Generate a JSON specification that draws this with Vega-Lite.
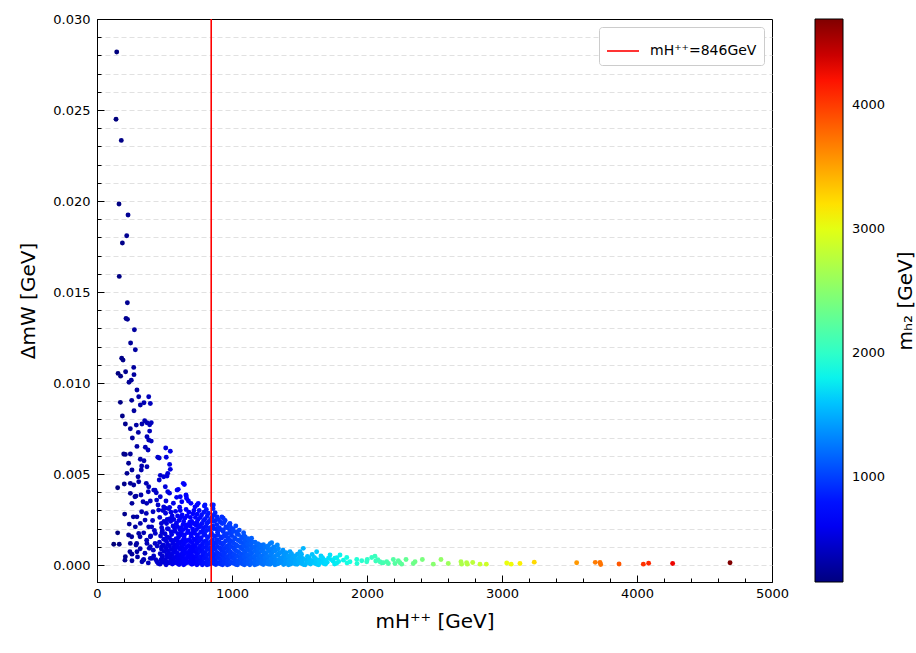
{
  "$schema": "https://vega.github.io/schema/vega-lite/v6.json",
  "width": 675,
  "height": 563,
  "autosize": {"type": "none"},
  "padding": {"left": 97, "top": 19, "right": 144, "bottom": 71},
  "background": "white",
  "config": {
    "font": "DejaVu Sans",
    "view": {"stroke": "black", "strokeWidth": 1},
    "axis": {"labelFont": "DejaVu Sans", "labelFontSize": 13, "labelColor": "black", "titleFont": "DejaVu Sans", "titleFontSize": 20, "titleFontWeight": "normal", "titleColor": "black", "domainColor": "black", "tickColor": "black", "labelFlush": false, "labelOverlap": false}
  },
  "resolve": {"scale": {"y": "independent"}, "axis": {"y": "independent"}},
  "layer": [
    {
      "data": {"values": [
        {"m":146,"dm":0.02819},{"m":141,"dm":0.02449},{"m":180,"dm":0.02333},{"m":163,"dm":0.01984},{"m":230,"dm":0.01923},{"m":220,"dm":0.01809},{"m":188,"dm":0.01769},{"m":165,"dm":0.01586},{"m":225,"dm":0.01441},{"m":215,"dm":0.01355},{"m":226,"dm":0.0135},{"m":277,"dm":0.01293},{"m":249,"dm":0.0122},{"m":284,"dm":0.01183},{"m":183,"dm":0.01136},{"m":193,"dm":0.01126},{"m":272,"dm":0.01086},{"m":156,"dm":0.01053},{"m":175,"dm":0.01038},{"m":212,"dm":0.01062},{"m":274,"dm":0.01046},{"m":254,"dm":0.01016},{"m":237,"dm":0.01004},{"m":296,"dm":0.00962},{"m":173,"dm":0.00894},{"m":257,"dm":0.00905},{"m":309,"dm":0.00925},{"m":383,"dm":0.00925},{"m":321,"dm":0.00879},{"m":348,"dm":0.00892},{"m":395,"dm":0.00888},{"m":274,"dm":0.00848},{"m":188,"dm":0.00819},{"m":353,"dm":0.00793},{"m":370,"dm":0.00782},{"m":402,"dm":0.00782},{"m":390,"dm":0.00771},{"m":210,"dm":0.00775},{"m":291,"dm":0.00769},{"m":333,"dm":0.00775},{"m":247,"dm":0.00749},{"m":306,"dm":0.00729},{"m":390,"dm":0.00736},{"m":262,"dm":0.00698},{"m":370,"dm":0.00705},{"m":383,"dm":0.00687},{"m":402,"dm":0.00681},{"m":296,"dm":0.00652},{"m":358,"dm":0.00647},{"m":378,"dm":0.00632},{"m":198,"dm":0.0061},{"m":210,"dm":0.00608},{"m":247,"dm":0.0061},{"m":321,"dm":0.00581},{"m":348,"dm":0.00573},{"m":331,"dm":0.00544},{"m":370,"dm":0.0054},{"m":450,"dm":0.00592},{"m":461,"dm":0.00588},{"m":513,"dm":0.00592},{"m":509,"dm":0.00643},{"m":543,"dm":0.00625},{"m":538,"dm":0.00553},{"m":543,"dm":0.00526},{"m":524,"dm":0.00504},{"m":234,"dm":0.00559},{"m":259,"dm":0.00522},{"m":222,"dm":0.00504},{"m":304,"dm":0.00485},{"m":328,"dm":0.00522},{"m":469,"dm":0.00493},{"m":494,"dm":0.00485},{"m":461,"dm":0.00467},{"m":519,"dm":0.00489},{"m":153,"dm":0.00425},{"m":202,"dm":0.00445},{"m":247,"dm":0.00449},{"m":272,"dm":0.0044},{"m":309,"dm":0.00458},{"m":365,"dm":0.00449},{"m":383,"dm":0.0043},{"m":420,"dm":0.00412},{"m":506,"dm":0.0043},{"m":524,"dm":0.00403},{"m":593,"dm":0.00412},{"m":647,"dm":0.00443},{"m":247,"dm":0.00394},{"m":289,"dm":0.00379},{"m":326,"dm":0.00385},{"m":439,"dm":0.00397},{"m":469,"dm":0.00375},{"m":259,"dm":0.00339},{"m":341,"dm":0.00348},{"m":395,"dm":0.00352},{"m":452,"dm":0.0033},{"m":494,"dm":0.0032},{"m":617,"dm":0.00375},{"m":661,"dm":0.00379},{"m":696,"dm":0.00339},{"m":741,"dm":0.0033},{"m":795,"dm":0.00324},{"m":852,"dm":0.0033},{"m":205,"dm":0.0028},{"m":296,"dm":0.00265},{"m":365,"dm":0.00284},{"m":415,"dm":0.00293},{"m":457,"dm":0.00302},{"m":506,"dm":0.00312},{"m":538,"dm":0.00317},{"m":239,"dm":0.00225},{"m":284,"dm":0.0021},{"m":321,"dm":0.00229},{"m":383,"dm":0.0021},{"m":153,"dm":0.00177},{"m":234,"dm":0.00165},{"m":309,"dm":0.00174},{"m":346,"dm":0.00177},{"m":395,"dm":0.00156},{"m":432,"dm":0.00174},{"m":124,"dm":0.00114},{"m":165,"dm":0.00114},{"m":247,"dm":0.00119},{"m":289,"dm":0.0011},{"m":370,"dm":0.00119},{"m":395,"dm":0.00101},{"m":210,"dm":0.00046},{"m":259,"dm":0.0006},{"m":296,"dm":0.00073},{"m":346,"dm":0.00031},{"m":395,"dm":0.00037},{"m":444,"dm":0.00018},{"m":259,"dm":0.00024},{"m":333,"dm":0.00018},{"m":407,"dm":0.00037},{"m":602,"dm":0.00416},{"m":639,"dm":0.00449},{"m":659,"dm":0.00385},{"m":664,"dm":0.00366},{"m":750,"dm":0.00339},{"m":800,"dm":0.0033},{"m":862,"dm":0.0033},{"m":935,"dm":0.00257},{"m":985,"dm":0.00229},{"m":1054,"dm":0.00192},{"m":1133,"dm":0.00137},{"m":1207,"dm":0.0011},{"m":1294,"dm":0.00123},{"m":1336,"dm":0.0011},{"m":1430,"dm":0.00073},{"m":1504,"dm":0.00073},
        {"m":207,"dm":0.00027},{"m":343,"dm":0.00027},{"m":244,"dm":0.00073},{"m":294,"dm":0.00119},{"m":368,"dm":0.00137},{"m":417,"dm":0.00082},{"m":454,"dm":0.00009},{"m":405,"dm":0.0021},{"m":356,"dm":0.00247},{"m":331,"dm":0.00293},{"m":269,"dm":0.00265},{"m":257,"dm":0.00156},{"m":319,"dm":0.00156},{"m":387,"dm":0.00092},{"m":430,"dm":0.00119},{"m":368,"dm":0.00339},{"m":442,"dm":0.00357},{"m":380,"dm":0.00403},{"m":430,"dm":0.00412},{"m":281,"dm":0.00375},{"m":300,"dm":0.00045},{"m":320,"dm":0.0009},{"m":355,"dm":0.00065},{"m":380,"dm":0.00012},{"m":420,"dm":0.0005},{"m":435,"dm":0.0003},{"m":445,"dm":0.00105},{"m":398,"dm":0.0016},{"m":412,"dm":0.00245},{"m":425,"dm":0.0019},
        {"m":466,"dm":0.00005},{"m":474,"dm":0.0003},{"m":468,"dm":0.00062},{"m":477,"dm":0.00088},{"m":463,"dm":0.00125},{"m":471,"dm":0.0016},{"m":479,"dm":0.00205},{"m":465,"dm":0.00262},
        {"m":492,"dm":0.00015},{"m":486,"dm":0.00045},{"m":497,"dm":0.00075},{"m":489,"dm":0.0011},{"m":494,"dm":0.00142},{"m":484,"dm":0.0019},{"m":496,"dm":0.0024},{"m":488,"dm":0.003},
        {"m":512,"dm":0.00002},{"m":506,"dm":0.00028},{"m":517,"dm":0.00055},{"m":509,"dm":0.00097},{"m":514,"dm":0.00131},{"m":504,"dm":0.00172},{"m":515,"dm":0.00228},{"m":508,"dm":0.00285},{"m":511,"dm":0.00352},
        {"m":533,"dm":0.00012},{"m":540,"dm":0.0004},{"m":530,"dm":0.0007},{"m":538,"dm":0.00105},{"m":536,"dm":0.0015},{"m":529,"dm":0.00198},{"m":541,"dm":0.00255},{"m":532,"dm":0.0031},{"m":537,"dm":0.00395},
        {"m":558,"dm":0.00006},{"m":564,"dm":0.00033},{"m":556,"dm":0.0006},{"m":566,"dm":0.00092},{"m":561,"dm":0.0012},{"m":553,"dm":0.00168},{"m":563,"dm":0.00215},{"m":557,"dm":0.0027},{"m":566,"dm":0.0034},
        {"m":583,"dm":0.00018},{"m":589,"dm":0.00048},{"m":580,"dm":0.0008},{"m":591,"dm":0.00112},{"m":586,"dm":0.00145},{"m":578,"dm":0.00185},{"m":588,"dm":0.0023},{"m":582,"dm":0.00295},{"m":590,"dm":0.00372},
        {"m":608,"dm":0.00003},{"m":614,"dm":0.00025},{"m":605,"dm":0.00052},{"m":616,"dm":0.00086},{"m":611,"dm":0.00118},{"m":603,"dm":0.00152},{"m":613,"dm":0.00195},{"m":607,"dm":0.00245},{"m":612,"dm":0.00318},
        {"m":633,"dm":0.00014},{"m":627,"dm":0.00042},{"m":636,"dm":0.00068},{"m":629,"dm":0.001},{"m":634,"dm":0.00135},{"m":625,"dm":0.00178},{"m":637,"dm":0.00222},{"m":631,"dm":0.00275},{"m":628,"dm":0.00348},
        {"m":653,"dm":0.00008},{"m":659,"dm":0.00035},{"m":650,"dm":0.00063},{"m":661,"dm":0.00095},{"m":656,"dm":0.00128},{"m":648,"dm":0.00165},{"m":658,"dm":0.00205},{"m":652,"dm":0.00258},{"m":660,"dm":0.00305},
        {"m":682,"dm":0.0002},{"m":676,"dm":0.0005},{"m":686,"dm":0.00078},{"m":679,"dm":0.00108},{"m":684,"dm":0.0014},{"m":674,"dm":0.00188},{"m":687,"dm":0.00235},{"m":681,"dm":0.0029},{"m":677,"dm":0.00352},
        {"m":703,"dm":0.00004},{"m":709,"dm":0.0003},{"m":700,"dm":0.00058},{"m":711,"dm":0.00088},{"m":706,"dm":0.00122},{"m":698,"dm":0.00158},{"m":708,"dm":0.00198},{"m":702,"dm":0.0024},{"m":710,"dm":0.00282},
        {"m":731,"dm":0.00016},{"m":725,"dm":0.00045},{"m":734,"dm":0.00072},{"m":727,"dm":0.00104},{"m":732,"dm":0.00138},{"m":723,"dm":0.00175},{"m":735,"dm":0.00218},{"m":729,"dm":0.00262},{"m":726,"dm":0.0032},
        {"m":750,"dm":0.00009},{"m":756,"dm":0.00038},{"m":747,"dm":0.00065},{"m":758,"dm":0.00095},{"m":753,"dm":0.0013},{"m":745,"dm":0.00166},{"m":755,"dm":0.00208},{"m":749,"dm":0.0025},{"m":757,"dm":0.003},
        {"m":780,"dm":0.00002},{"m":774,"dm":0.00026},{"m":783,"dm":0.00054},{"m":776,"dm":0.00082},{"m":781,"dm":0.00115},{"m":772,"dm":0.0015},{"m":784,"dm":0.00188},{"m":778,"dm":0.00228},{"m":775,"dm":0.00275},
        {"m":803,"dm":0.00012},{"m":809,"dm":0.0004},{"m":800,"dm":0.0007},{"m":811,"dm":0.001},{"m":806,"dm":0.00132},{"m":798,"dm":0.0017},{"m":808,"dm":0.00212},{"m":802,"dm":0.00255},{"m":810,"dm":0.00305},
        {"m":830,"dm":0.00005},{"m":824,"dm":0.0003},{"m":833,"dm":0.00058},{"m":826,"dm":0.00088},{"m":831,"dm":0.00118},{"m":822,"dm":0.00155},{"m":834,"dm":0.00195},{"m":828,"dm":0.00238},{"m":825,"dm":0.00285},
        {"m":853,"dm":0.00016},{"m":859,"dm":0.00044},{"m":850,"dm":0.00072},{"m":861,"dm":0.00104},{"m":856,"dm":0.00138},{"m":848,"dm":0.00175},{"m":858,"dm":0.00215},{"m":852,"dm":0.00262},{"m":860,"dm":0.0031},
        {"m":880,"dm":0.00003},{"m":874,"dm":0.00028},{"m":883,"dm":0.00055},{"m":876,"dm":0.00085},{"m":881,"dm":0.0012},{"m":872,"dm":0.00158},{"m":884,"dm":0.00198},{"m":878,"dm":0.00245},{"m":875,"dm":0.00288},
        {"m":901,"dm":0.0001},{"m":907,"dm":0.00036},{"m":898,"dm":0.00064},{"m":909,"dm":0.00094},{"m":904,"dm":0.00128},{"m":896,"dm":0.00165},{"m":906,"dm":0.00205},{"m":900,"dm":0.0025},
        {"m":930,"dm":0.00002},{"m":924,"dm":0.00024},{"m":933,"dm":0.0005},{"m":926,"dm":0.0008},{"m":931,"dm":0.00112},{"m":922,"dm":0.00148},{"m":934,"dm":0.00185},{"m":928,"dm":0.00228},{"m":925,"dm":0.00265},
        {"m":950,"dm":0.00014},{"m":956,"dm":0.0004},{"m":947,"dm":0.00068},{"m":958,"dm":0.00098},{"m":953,"dm":0.00132},{"m":945,"dm":0.00168},{"m":955,"dm":0.0021},{"m":949,"dm":0.00245},
        {"m":980,"dm":0.00006},{"m":974,"dm":0.0003},{"m":983,"dm":0.00056},{"m":976,"dm":0.00085},{"m":981,"dm":0.00116},{"m":972,"dm":0.0015},{"m":984,"dm":0.00188},{"m":978,"dm":0.00222},
        {"m":1002,"dm":0.00012},{"m":1008,"dm":0.00038},{"m":999,"dm":0.00064},{"m":1010,"dm":0.00095},{"m":1005,"dm":0.00128},{"m":997,"dm":0.00162},{"m":1007,"dm":0.002},
        {"m":1030,"dm":0.00003},{"m":1024,"dm":0.00026},{"m":1033,"dm":0.00052},{"m":1026,"dm":0.0008},{"m":1031,"dm":0.00112},{"m":1022,"dm":0.00145},{"m":1034,"dm":0.00182},{"m":1028,"dm":0.00215},
        {"m":1053,"dm":0.00015},{"m":1059,"dm":0.00042},{"m":1050,"dm":0.0007},{"m":1061,"dm":0.001},{"m":1056,"dm":0.00132},{"m":1048,"dm":0.00168},
        {"m":1082,"dm":0.00005},{"m":1076,"dm":0.0003},{"m":1085,"dm":0.00058},{"m":1078,"dm":0.00088},{"m":1083,"dm":0.00118},{"m":1074,"dm":0.0015},{"m":1086,"dm":0.00178},
        {"m":1103,"dm":0.0001},{"m":1109,"dm":0.00036},{"m":1100,"dm":0.00064},{"m":1111,"dm":0.00094},{"m":1106,"dm":0.00125},{"m":1098,"dm":0.00155},
        {"m":1132,"dm":0.00002},{"m":1126,"dm":0.00024},{"m":1135,"dm":0.0005},{"m":1128,"dm":0.00078},{"m":1133,"dm":0.00108},{"m":1124,"dm":0.0013},
        {"m":1153,"dm":0.00012},{"m":1159,"dm":0.0004},{"m":1150,"dm":0.00068},{"m":1161,"dm":0.00098},{"m":1156,"dm":0.00126},
        {"m":1182,"dm":0.00005},{"m":1176,"dm":0.00028},{"m":1185,"dm":0.00055},{"m":1178,"dm":0.00084},{"m":1183,"dm":0.0011},
        {"m":1203,"dm":0.00014},{"m":1209,"dm":0.00042},{"m":1200,"dm":0.0007},{"m":1211,"dm":0.00098},
        {"m":1232,"dm":0.00003},{"m":1226,"dm":0.0003},{"m":1235,"dm":0.00058},{"m":1228,"dm":0.00086},{"m":1233,"dm":0.00112},
        {"m":1253,"dm":0.0001},{"m":1259,"dm":0.00036},{"m":1250,"dm":0.00064},{"m":1261,"dm":0.00092},
        {"m":1282,"dm":0.00004},{"m":1276,"dm":0.00025},{"m":1285,"dm":0.00052},{"m":1278,"dm":0.0008},{"m":1283,"dm":0.00118},
        {"m":1303,"dm":0.00015},{"m":1309,"dm":0.00042},{"m":1300,"dm":0.0007},{"m":1311,"dm":0.001},
        {"m":1332,"dm":0.00006},{"m":1326,"dm":0.0003},{"m":1335,"dm":0.00058},{"m":1328,"dm":0.00085},
        {"m":1353,"dm":0.00012},{"m":1359,"dm":0.00038},{"m":1350,"dm":0.00066},
        {"m":1382,"dm":0.00003},{"m":1376,"dm":0.00026},{"m":1385,"dm":0.00052},{"m":1378,"dm":0.00082},
        {"m":1403,"dm":0.00014},{"m":1409,"dm":0.0004},{"m":1400,"dm":0.00068},
        {"m":1432,"dm":0.00005},{"m":1426,"dm":0.00028},{"m":1435,"dm":0.0005},
        {"m":1453,"dm":0.00016},{"m":1459,"dm":0.00044},
        {"m":1482,"dm":0.00004},{"m":1476,"dm":0.0003},{"m":1485,"dm":0.0006},
        {"m":1503,"dm":0.00012},{"m":1509,"dm":0.00045},
        {"m":1530,"dm":0.00003},{"m":1524,"dm":0.00036},{"m":1528,"dm":0.00092},
        {"m":1553,"dm":0.00018},{"m":1559,"dm":0.00048},
        {"m":1582,"dm":0.00006},{"m":1576,"dm":0.0003},
        {"m":1603,"dm":0.00014},{"m":1609,"dm":0.00042},
        {"m":1630,"dm":0.00004},{"m":1624,"dm":0.00025},{"m":1627,"dm":0.00073},
        {"m":1653,"dm":0.0002},{"m":1659,"dm":0.0005},
        {"m":1682,"dm":0.00008},{"m":1676,"dm":0.00032},
        {"m":1705,"dm":0.00015},{"m":1726,"dm":0.00055},{"m":1735,"dm":0.0003},{"m":1760,"dm":0.00006},{"m":1762,"dm":0.00038},{"m":1790,"dm":0.0002},{"m":1800,"dm":0.00055},
        {"m":480,"dm":0.0002},{"m":482,"dm":0.0005},{"m":478,"dm":0.001},{"m":481,"dm":0.00178},{"m":477,"dm":0.00228},
        {"m":520,"dm":0.00016},{"m":522,"dm":0.00043},{"m":519,"dm":0.00082},{"m":523,"dm":0.00115},{"m":518,"dm":0.00155},{"m":521,"dm":0.002},{"m":520,"dm":0.0025},
        {"m":548,"dm":0.00022},{"m":546,"dm":0.0005},{"m":549,"dm":0.00085},{"m":547,"dm":0.00138},{"m":550,"dm":0.00182},{"m":545,"dm":0.0024},{"m":548,"dm":0.0029},
        {"m":572,"dm":0.00012},{"m":574,"dm":0.0004},{"m":570,"dm":0.00072},{"m":573,"dm":0.00104},{"m":571,"dm":0.00135},{"m":575,"dm":0.002},{"m":569,"dm":0.0025},
        {"m":597,"dm":0.00008},{"m":599,"dm":0.00035},{"m":595,"dm":0.00065},{"m":598,"dm":0.00098},{"m":596,"dm":0.00132},{"m":600,"dm":0.00172},{"m":594,"dm":0.00212},{"m":597,"dm":0.0027},
        {"m":620,"dm":0.0001},{"m":622,"dm":0.00058},{"m":619,"dm":0.00092},{"m":621,"dm":0.00125},{"m":618,"dm":0.00165},{"m":623,"dm":0.00205},{"m":620,"dm":0.0026},{"m":617,"dm":0.003},
        {"m":642,"dm":0.00002},{"m":644,"dm":0.00028},{"m":640,"dm":0.00055},{"m":643,"dm":0.00082},{"m":641,"dm":0.00115},{"m":645,"dm":0.0015},{"m":639,"dm":0.00195},{"m":642,"dm":0.0024},
        {"m":667,"dm":0.00014},{"m":669,"dm":0.00042},{"m":665,"dm":0.0007},{"m":668,"dm":0.00102},{"m":666,"dm":0.00135},{"m":670,"dm":0.00178},{"m":664,"dm":0.0022},{"m":667,"dm":0.0027},
        {"m":692,"dm":0.0001},{"m":694,"dm":0.00038},{"m":690,"dm":0.00066},{"m":693,"dm":0.00098},{"m":691,"dm":0.0013},{"m":695,"dm":0.00172},{"m":689,"dm":0.00215},{"m":692,"dm":0.00262},
        {"m":716,"dm":0.00008},{"m":718,"dm":0.00022},{"m":714,"dm":0.00045},{"m":717,"dm":0.00075},{"m":715,"dm":0.00108},{"m":719,"dm":0.00142},{"m":713,"dm":0.0018},{"m":716,"dm":0.00228},{"m":718,"dm":0.003},
        {"m":740,"dm":0.00002},{"m":742,"dm":0.00028},{"m":738,"dm":0.00055},{"m":741,"dm":0.00085},{"m":739,"dm":0.00118},{"m":743,"dm":0.00155},{"m":737,"dm":0.00195},{"m":740,"dm":0.00235},{"m":742,"dm":0.0028},
        {"m":765,"dm":0.00015},{"m":767,"dm":0.00045},{"m":763,"dm":0.00075},{"m":766,"dm":0.00105},{"m":764,"dm":0.0014},{"m":768,"dm":0.0018},{"m":762,"dm":0.00218},{"m":765,"dm":0.00262},
        {"m":790,"dm":0.0001},{"m":792,"dm":0.00036},{"m":788,"dm":0.00066},{"m":791,"dm":0.00096},{"m":789,"dm":0.00128},{"m":793,"dm":0.00165},{"m":787,"dm":0.00205},{"m":790,"dm":0.00245},{"m":792,"dm":0.0029},
        {"m":815,"dm":0.00002},{"m":817,"dm":0.00025},{"m":813,"dm":0.00055},{"m":816,"dm":0.00085},{"m":814,"dm":0.00116},{"m":818,"dm":0.0015},{"m":812,"dm":0.0019},{"m":815,"dm":0.0023},{"m":817,"dm":0.0027},
        {"m":840,"dm":0.0001},{"m":842,"dm":0.00038},{"m":838,"dm":0.00065},{"m":841,"dm":0.00096},{"m":839,"dm":0.00128},{"m":843,"dm":0.00165},{"m":837,"dm":0.00205},{"m":840,"dm":0.0025},
        {"m":866,"dm":0.00008},{"m":868,"dm":0.0003},{"m":864,"dm":0.0006},{"m":867,"dm":0.0009},{"m":865,"dm":0.00122},{"m":869,"dm":0.0016},{"m":863,"dm":0.002},{"m":866,"dm":0.0024},{"m":868,"dm":0.00275},
        {"m":890,"dm":0.00015},{"m":892,"dm":0.00042},{"m":888,"dm":0.0007},{"m":891,"dm":0.00102},{"m":889,"dm":0.0014},{"m":893,"dm":0.0018},{"m":887,"dm":0.00222},{"m":890,"dm":0.00265},
        {"m":915,"dm":0.00006},{"m":917,"dm":0.0003},{"m":913,"dm":0.00058},{"m":916,"dm":0.00088},{"m":914,"dm":0.0012},{"m":918,"dm":0.00155},{"m":912,"dm":0.00195},{"m":915,"dm":0.00235},
        {"m":940,"dm":0.0001},{"m":942,"dm":0.00035},{"m":938,"dm":0.00062},{"m":941,"dm":0.0009},{"m":939,"dm":0.00122},{"m":943,"dm":0.00158},{"m":937,"dm":0.00195},{"m":940,"dm":0.00232},
        {"m":965,"dm":0.00002},{"m":967,"dm":0.00022},{"m":963,"dm":0.00048},{"m":966,"dm":0.00075},{"m":964,"dm":0.00105},{"m":968,"dm":0.00138},{"m":962,"dm":0.00172},{"m":965,"dm":0.00205},
        {"m":990,"dm":0.00016},{"m":992,"dm":0.00044},{"m":988,"dm":0.00072},{"m":991,"dm":0.00102},{"m":989,"dm":0.00135},{"m":993,"dm":0.00175},{"m":987,"dm":0.0021},
        {"m":1016,"dm":0.00008},{"m":1018,"dm":0.00032},{"m":1014,"dm":0.00058},{"m":1017,"dm":0.00088},{"m":1015,"dm":0.00118},{"m":1019,"dm":0.0015},{"m":1013,"dm":0.00185},
        {"m":1041,"dm":0.00002},{"m":1043,"dm":0.00022},{"m":1039,"dm":0.00048},{"m":1042,"dm":0.00075},{"m":1040,"dm":0.00105},{"m":1044,"dm":0.00138},{"m":1038,"dm":0.0017},
        {"m":1067,"dm":0.0001},{"m":1069,"dm":0.00036},{"m":1065,"dm":0.00062},{"m":1068,"dm":0.00092},{"m":1066,"dm":0.00125},{"m":1070,"dm":0.00155},
        {"m":1092,"dm":0.00002},{"m":1094,"dm":0.0002},{"m":1090,"dm":0.00046},{"m":1093,"dm":0.00075},{"m":1091,"dm":0.00105},{"m":1095,"dm":0.00135},{"m":1089,"dm":0.00162},
        {"m":1117,"dm":0.00008},{"m":1119,"dm":0.0003},{"m":1115,"dm":0.00056},{"m":1118,"dm":0.00085},{"m":1116,"dm":0.00115},{"m":1120,"dm":0.00145},
        {"m":1142,"dm":0.00016},{"m":1144,"dm":0.0004},{"m":1140,"dm":0.00065},{"m":1143,"dm":0.0009},{"m":1141,"dm":0.00118},{"m":1145,"dm":0.00148},
        {"m":1168,"dm":0.00002},{"m":1170,"dm":0.0002},{"m":1166,"dm":0.00048},{"m":1169,"dm":0.00075},{"m":1167,"dm":0.001},{"m":1171,"dm":0.00125},
        {"m":1192,"dm":0.0001},{"m":1194,"dm":0.00035},{"m":1190,"dm":0.00062},{"m":1193,"dm":0.0009},{"m":1191,"dm":0.00118},
        {"m":1218,"dm":0.00008},{"m":1220,"dm":0.00025},{"m":1216,"dm":0.0005},{"m":1219,"dm":0.00078},{"m":1217,"dm":0.00105},
        {"m":1243,"dm":0.00016},{"m":1245,"dm":0.0004},{"m":1241,"dm":0.0007},{"m":1244,"dm":0.001},
        {"m":1268,"dm":0.00006},{"m":1270,"dm":0.00022},{"m":1266,"dm":0.00048},{"m":1269,"dm":0.00075},{"m":1267,"dm":0.00105},
        {"m":1292,"dm":0.0001},{"m":1294,"dm":0.00032},{"m":1290,"dm":0.0006},{"m":1293,"dm":0.0009},
        {"m":1318,"dm":0.00002},{"m":1320,"dm":0.00022},{"m":1316,"dm":0.00048},{"m":1319,"dm":0.00078},
        {"m":1343,"dm":0.00008},{"m":1345,"dm":0.0003},{"m":1341,"dm":0.00055},{"m":1344,"dm":0.0009},
        {"m":1368,"dm":0.00016},{"m":1370,"dm":0.0004},{"m":1366,"dm":0.0007},
        {"m":1393,"dm":0.00008},{"m":1395,"dm":0.00032},{"m":1391,"dm":0.00058},
        {"m":1418,"dm":0.00002},{"m":1420,"dm":0.00022},{"m":1416,"dm":0.0005},
        {"m":1443,"dm":0.0001},{"m":1445,"dm":0.00035},{"m":1441,"dm":0.00062},
        {"m":1468,"dm":0.00006},{"m":1470,"dm":0.00022},{"m":1466,"dm":0.0005},
        {"m":1493,"dm":0.00016},{"m":1495,"dm":0.00038},
        {"m":1517,"dm":0.00008},{"m":1519,"dm":0.00024},{"m":1515,"dm":0.0006},
        {"m":1542,"dm":0.00002},{"m":1544,"dm":0.0003},
        {"m":1568,"dm":0.00012},{"m":1570,"dm":0.0004},
        {"m":1592,"dm":0.00022},{"m":1594,"dm":0.00058},
        {"m":1617,"dm":0.00008},{"m":1619,"dm":0.00035},
        {"m":1642,"dm":0.00002},{"m":1644,"dm":0.00028},
        {"m":1668,"dm":0.00014},{"m":1670,"dm":0.0004},
        {"m":1692,"dm":0.00005},{"m":1694,"dm":0.00025},
        {"m":1715,"dm":0.00038},{"m":1748,"dm":0.00022},{"m":1775,"dm":0.0001},{"m":1777,"dm":0.0004},
        {"m":1825,"dm":0.00027},{"m":1850,"dm":0.00042},{"m":1852,"dm":0.00012},{"m":1874,"dm":0.00018},{"m":1924,"dm":0.00031},{"m":1926,"dm":0.00008},{"m":1961,"dm":0.00024},{"m":1998,"dm":0.00018},{"m":2002,"dm":0.00031},{"m":2035,"dm":0.00042},{"m":2059,"dm":0.00049},{"m":2065,"dm":0.00022},{"m":2080,"dm":0.0003},{"m":2096,"dm":0.00018},{"m":2109,"dm":0.00013},{"m":2121,"dm":0.00013},{"m":2146,"dm":0.00018},{"m":2158,"dm":0.00009},{"m":2195,"dm":0.00031},{"m":2207,"dm":0.00009},{"m":2232,"dm":0.00024},{"m":2244,"dm":0.00013},{"m":2257,"dm":0.00005},{"m":2289,"dm":0.00031},{"m":2343,"dm":0.00009},{"m":2356,"dm":0.00018},{"m":2410,"dm":0.00031},{"m":2491,"dm":0.00005},{"m":2548,"dm":0.00031},{"m":2602,"dm":0.00009},{"m":2696,"dm":0.00018},{"m":2701,"dm":0.00005},{"m":2738,"dm":0.00013},{"m":2743,"dm":0.00005},{"m":2783,"dm":0.00014},{"m":2837,"dm":0.00005},{"m":2884,"dm":0.00005},{"m":3035,"dm":0.00011},{"m":3068,"dm":0.00005},{"m":3133,"dm":0.00009},{"m":3239,"dm":0.00016},{"m":3553,"dm":0.00013},{"m":3691,"dm":0.00015},{"m":3726,"dm":0.00014},{"m":3731,"dm":0.00003},{"m":3867,"dm":0.00006},{"m":4047,"dm":0.00005},{"m":4086,"dm":0.0001},{"m":4264,"dm":0.00009},{"m":4689,"dm":0.00013}
      ]},
      "mark": {"type": "circle", "size": 24, "opacity": 1},
      "encoding": {
        "x": {
          "field": "m", "type": "quantitative",
          "scale": {"domain": [0, 5000], "nice": false, "zero": false},
          "axis": {
            "title": "mH⁺⁺  [GeV]",
            "values": [0,200,400,600,800,1000,1200,1400,1600,1800,2000,2200,2400,2600,2800,3000,3200,3400,3600,3800,4000,4200,4400,4600,4800,5000],
            "labelExpr": "datum.value % 1000 === 0 ? format(datum.value, 'd') : ''",
            "labelOverlap": false,
            "labelBound": false,
            "tickSize": {"condition": {"test": "datum.value % 1000 === 0", "value": -7}, "value": -4},
            "labelPadding": 12,
            "titlePadding": 8,
            "grid": false
          }
        },
        "y": {
          "field": "dm", "type": "quantitative",
          "scale": {"domain": [-0.00093, 0.03], "nice": false, "zero": false},
          "axis": {
            "title": "ΔmW [GeV]",
            "values": [0,0.001,0.002,0.003,0.004,0.005,0.006,0.007,0.008,0.009,0.01,0.011,0.012,0.013,0.014,0.015,0.016,0.017,0.018,0.019,0.02,0.021,0.022,0.023,0.024,0.025,0.026,0.027,0.028,0.029,0.03],
            "labelExpr": "abs(datum.value*200 - round(datum.value*200)) < 1e-6 ? format(datum.value, '.3f') : ''",
            "labelOverlap": false,
            "tickSize": {"condition": {"test": "abs(datum.value*200 - round(datum.value*200)) < 1e-6", "value": -7}, "value": -4},
            "labelPadding": 14,
            "titlePadding": 14,
            "grid": true,
            "gridDash": [5, 3],
            "gridColor": "#d9d9d9",
            "gridWidth": 0.8,
            "gridOpacity": {"condition": {"test": "datum.value > 0.0295", "value": 0}, "value": 1}
          }
        },
        "color": {
          "field": "m", "type": "quantitative",
          "scale": {
            "type": "linear",
            "domain": [153, 652, 720, 1697, 1742, 1856, 3059, 3104, 3149, 4194, 4284, 4693],
            "range": ["#000080", "#0000ff", "#0000ff", "#00dbff", "#00e6f7", "#15ffe2", "#eeff08", "#f7f500", "#ffec00", "#ff1300", "#e80000", "#800000"],
            "interpolate": "rgb"
          },
          "legend": {
            "orient": "none",
            "legendX": 718,
            "legendY": 0,
            "padding": 0,
            "direction": "vertical",
            "gradientLength": 563,
            "gradientThickness": 28,
            "gradientStrokeColor": "black",
            "gradientStrokeWidth": 1,
            "values": [1000, 2000, 3000, 4000],
            "format": "d",
            "labelFont": "DejaVu Sans",
            "labelFontSize": 13,
            "labelColor": "black",
            "labelOffset": 9,
            "title": null
          }
        }
      }
    },
    {
      "data": {"values": [{"m": 846, "label": "mH⁺⁺=846GeV"}]},
      "mark": {"type": "rule", "strokeWidth": 1.6},
      "encoding": {
        "x": {
          "field": "m", "type": "quantitative",
          "axis": {
            "title": "mH⁺⁺  [GeV]",
            "values": [0,200,400,600,800,1000,1200,1400,1600,1800,2000,2200,2400,2600,2800,3000,3200,3400,3600,3800,4000,4200,4400,4600,4800,5000],
            "labelExpr": "datum.value % 1000 === 0 ? format(datum.value, 'd') : ''",
            "labelOverlap": false,
            "labelBound": false,
            "tickSize": {"condition": {"test": "datum.value % 1000 === 0", "value": -7}, "value": -4},
            "labelPadding": 12,
            "titlePadding": 8,
            "grid": false
          }
        },
        "stroke": {
          "field": "label", "type": "nominal",
          "scale": {"range": ["#ff0000"]},
          "legend": {
            "orient": "top-right",
            "offset": 8,
            "title": null,
            "symbolType": "stroke",
            "symbolStrokeWidth": 1.6,
            "symbolSize": 1024,
            "labelFont": "DejaVu Sans",
            "labelFontSize": 14,
            "labelColor": "black",
            "labelOffset": 10,
            "padding": 7,
            "strokeColor": "#cccccc",
            "fillColor": "white",
            "cornerRadius": 3
          }
        }
      }
    },
    {
      "data": {"values": [{"dm": 0}]},
      "mark": {"type": "point", "opacity": 0},
      "encoding": {
        "y": {
          "field": "dm", "type": "quantitative",
          "scale": {"domain": [-0.00093, 0.03], "nice": false, "zero": false},
          "axis": {
            "orient": "right",
            "title": "mₕ₂ [GeV]",
            "titleAngle": 270,
            "titleFontSize": 20,
            "titleAnchor": "middle",
            "labels": false,
            "ticks": false,
            "domain": false,
            "grid": false,
            "offset": 143,
            "titlePadding": 0
          }
        }
      }
    }
  ]
}
